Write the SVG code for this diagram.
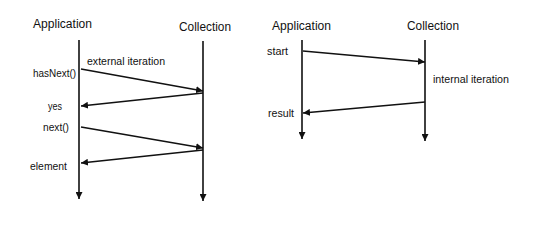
<svg xmlns="http://www.w3.org/2000/svg" width="540" height="227" viewBox="0 0 540 227">
<style>
text{font-family:"Liberation Sans",Arial,sans-serif;fill:#111}
.h{font-size:12.5px}
.s{font-size:11px}
line{stroke:#111;stroke-width:1.6}
</style>
<defs>
<marker id="ah" viewBox="0 0 10 10" refX="10" refY="5" markerWidth="7" markerHeight="7" markerUnits="userSpaceOnUse" orient="auto"><path d="M0,0L10,5L0,10z" fill="#111"/></marker>
<marker id="ahl" viewBox="0 0 10 10" refX="10" refY="5" markerWidth="7" markerHeight="7" markerUnits="userSpaceOnUse" orient="auto"><path d="M0,0L10,5L0,10z" fill="#111"/></marker>
</defs>
<g id="app1"><text class="h" x="33" y="28" textLength="59" lengthAdjust="spacingAndGlyphs">Application</text><line x1="79" y1="40" x2="79" y2="199" marker-end="url(#ahl)"/></g>
<g id="coll1"><text class="h" x="179" y="31" textLength="52" lengthAdjust="spacingAndGlyphs">Collection</text><line x1="203" y1="41" x2="203" y2="201" marker-end="url(#ahl)"/></g>
<g id="app2"><text class="h" x="272" y="30" textLength="59" lengthAdjust="spacingAndGlyphs">Application</text><line x1="302" y1="40" x2="302" y2="139" marker-end="url(#ahl)"/></g>
<g id="coll2"><text class="h" x="407" y="30" textLength="52" lengthAdjust="spacingAndGlyphs">Collection</text><line x1="425" y1="40" x2="425" y2="141" marker-end="url(#ahl)"/></g>
<g id="connectors">
<line x1="81" y1="69" x2="203" y2="91" marker-end="url(#ah)"/>
<line x1="203" y1="93" x2="81" y2="106" marker-end="url(#ah)"/>
<line x1="81" y1="127" x2="203" y2="148" marker-end="url(#ah)"/>
<line x1="203" y1="150" x2="81" y2="163" marker-end="url(#ah)"/>
<line x1="303" y1="51" x2="425" y2="62" marker-end="url(#ah)"/>
<line x1="425" y1="102" x2="303" y2="113" marker-end="url(#ah)"/>
</g>
<g id="labels">
<text class="s" x="87" y="65" textLength="78" lengthAdjust="spacingAndGlyphs">external iteration</text>
<text class="s" x="33" y="77" textLength="43" lengthAdjust="spacingAndGlyphs">hasNext()</text>
<text class="s" x="48" y="110" textLength="14" lengthAdjust="spacingAndGlyphs">yes</text>
<text class="s" x="43" y="131" textLength="26" lengthAdjust="spacingAndGlyphs">next()</text>
<text class="s" x="30" y="170" textLength="37" lengthAdjust="spacingAndGlyphs">element</text>
<text class="s" x="267" y="55" textLength="21" lengthAdjust="spacingAndGlyphs">start</text>
<text class="s" x="433" y="83" textLength="76" lengthAdjust="spacingAndGlyphs">internal iteration</text>
<text class="s" x="268" y="117" textLength="26" lengthAdjust="spacingAndGlyphs">result</text>
</g>
</svg>
